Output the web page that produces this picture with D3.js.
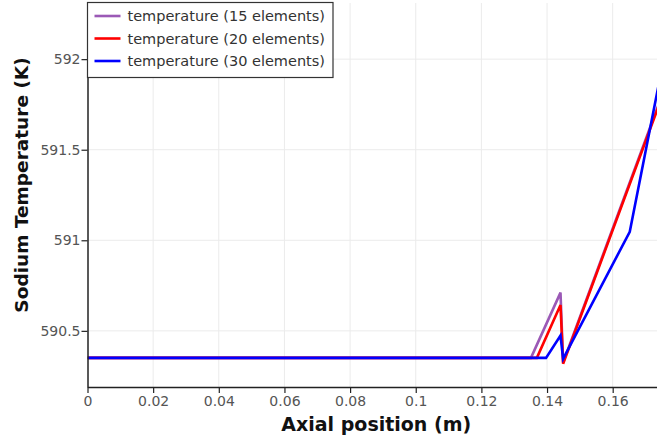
<!DOCTYPE html>
<html>
<head>
<meta charset="utf-8">
<script src="https://cdn.jsdelivr.net/npm/d3@7"></script>
<style>
  body { margin: 0; background: white; }
  svg { display: block; font-family: "DejaVu Sans", sans-serif; }
</style>
</head>
<body>
<script>
// values (x in m, T in K)
const x15 = [0, 0.1351, 0.1441, 0.1449, 0.175];
const t15 = [590.351, 590.351, 590.711, 590.325, 591.80];
const x20 = [0, 0.1369, 0.1441, 0.1449, 0.175];
const t20 = [590.351, 590.351, 590.643, 590.318, 591.79];
const x30 = [0, 0.1397, 0.1441, 0.1449, 0.1652, 0.175];
const t30 = [590.351, 590.351, 590.474, 590.345, 591.047, 591.95];

const seriesNames = ["temperature (15 elements)", "temperature (20 elements)", "temperature (30 elements)"];
const seriesColors = ["#9b59b6", "#ff0000", "#0000ff"];
const xTicks = [0, 0.02, 0.04, 0.06, 0.08, 0.1, 0.12, 0.14, 0.16];
const yTicks = [590.5, 591, 591.5, 592];

const W = 657, H = 438;
const margin = {left: 87.5, top: 3, right: 0, bottom: 51};

const series = [[x15, t15], [x20, t20], [x30, t30]].map(([xs, ts], i) => ({
  name: seriesNames[i],
  color: seriesColors[i],
  values: xs.map((x, j) => ({x, t: ts[j]}))
}));

const x = d3.scaleLinear().domain([0, 0.1735]).range([margin.left, W - margin.right]);
const y = d3.scaleLinear().domain([590.19, 592.31]).range([H - margin.bottom, margin.top]);

const svg = d3.select("body").append("svg")
    .attr("width", W)
    .attr("height", H);

svg.append("defs").append("clipPath").attr("id", "clip")
  .append("rect")
    .attr("x", margin.left).attr("y", margin.top)
    .attr("width", W - margin.left - margin.right)
    .attr("height", H - margin.top - margin.bottom);

// grid
const grid = svg.append("g").attr("stroke", "#ebebeb").attr("stroke-width", 1);
grid.selectAll("line.v")
  .data(xTicks.filter(d => d > 0))
  .join("line")
    .attr("x1", d => x(d)).attr("x2", d => x(d))
    .attr("y1", margin.top).attr("y2", H - margin.bottom);
grid.selectAll("line.h")
  .data(yTicks)
  .join("line")
    .attr("x1", margin.left).attr("x2", W)
    .attr("y1", d => y(d)).attr("y2", d => y(d));

// lines
const line = d3.line().x(d => x(d.x)).y(d => y(d.t));
svg.append("g")
    .attr("clip-path", "url(#clip)")
    .attr("fill", "none")
    .attr("stroke-width", 2.6)
    .attr("stroke-linejoin", "miter")
  .selectAll("path")
  .data(series)
  .join("path")
    .attr("stroke", d => d.color)
    .attr("d", d => line(d.values));

// axes
const xAxis = svg.append("g")
    .attr("transform", `translate(0,${H - margin.bottom})`)
    .call(d3.axisBottom(x).tickValues(xTicks).tickFormat(d3.format("~g")).tickSize(6).tickSizeOuter(0));
const yAxis = svg.append("g")
    .attr("transform", `translate(${margin.left},0)`)
    .call(d3.axisLeft(y).tickValues(yTicks).tickFormat(d3.format("~g")).tickSize(6).tickSizeOuter(0));

[xAxis, yAxis].forEach(a => {
  a.select(".domain").attr("stroke", "#222").attr("stroke-width", 1.5);
  a.selectAll(".tick line").attr("stroke", "#222").attr("stroke-width", 1.2);
  a.selectAll(".tick text")
      .attr("fill", "#555")
      .style("font-size", "14px")
      .style("font-family", "'DejaVu Sans', sans-serif");
});
xAxis.selectAll(".tick text").attr("dy", "0.9em").attr("y", 6);
yAxis.selectAll(".tick text").attr("x", -7);

// axis titles
svg.append("text")
    .attr("x", (margin.left + W) / 2 + 4)
    .attr("y", 431)
    .attr("text-anchor", "middle")
    .attr("font-weight", "bold")
    .attr("font-size", 19)
    .attr("fill", "#111")
    .text("Axial position (m)");

svg.append("text")
    .attr("transform", `translate(28,${185}) rotate(-90)`)
    .attr("text-anchor", "middle")
    .attr("font-weight", "bold")
    .attr("font-size", 18.5)
    .attr("fill", "#111")
    .text("Sodium Temperature (K)");

// legend
const legend = svg.append("g").attr("transform", "translate(87.5,2.5)");
legend.append("rect")
    .attr("width", 245.5)
    .attr("height", 75)
    .attr("fill", "white")
    .attr("stroke", "#333")
    .attr("stroke-width", 1.2);
const item = legend.selectAll("g.item")
  .data(series)
  .join("g")
    .attr("transform", (d, i) => `translate(0,${13.5 + i * 22.5})`);
item.append("line")
    .attr("x1", 7).attr("x2", 33)
    .attr("stroke", d => d.color)
    .attr("stroke-width", 2.6);
item.append("text")
    .attr("x", 40)
    .attr("dy", "0.35em")
    .attr("font-size", 14.5)
    .attr("fill", "#333")
    .text(d => d.name);
</script>
</body>
</html>
